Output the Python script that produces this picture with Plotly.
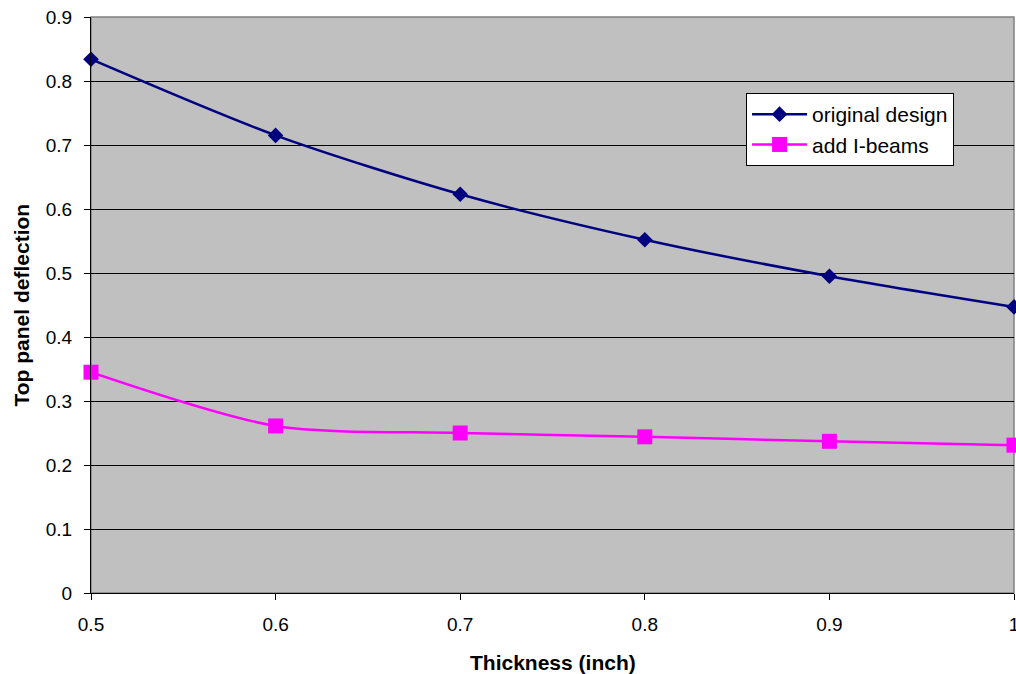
import plotly.graph_objects as go

thickness = [0.5, 0.6, 0.7, 0.8, 0.9, 1.0]
original_design = [0.834, 0.715, 0.623, 0.552, 0.495, 0.447]
add_i_beams = [0.345, 0.261, 0.250, 0.244, 0.237, 0.231]

x_ticks = [0.5, 0.6, 0.7, 0.8, 0.9, 1.0]
x_tick_labels = ["0.5", "0.6", "0.7", "0.8", "0.9", "1"]
y_ticks = [0, 0.1, 0.2, 0.3, 0.4, 0.5, 0.6, 0.7, 0.8, 0.9]
y_tick_labels = ["0", "0.1", "0.2", "0.3", "0.4", "0.5", "0.6", "0.7", "0.8", "0.9"]

FONT = "Liberation Sans, Arial, sans-serif"

fig = go.Figure()
fig.add_trace(go.Scatter(
    x=thickness, y=original_design, name="original design",
    mode="lines+markers", line=dict(color="#000080", width=2.5, shape="spline", smoothing=0.8),
    marker=dict(symbol="diamond", size=12, color="#000080"),
    legendgroup="a", cliponaxis=False,
))
fig.add_trace(go.Scatter(
    x=thickness, y=add_i_beams, name="add I-beams",
    mode="lines+markers", line=dict(color="#FF00FF", width=2.5, shape="spline", smoothing=0.8),
    marker=dict(symbol="square", size=15, color="#FF00FF"),
    legendgroup="b", cliponaxis=False,
))

fig.add_shape(type="rect", xref="paper", yref="paper", x0=0, x1=1, y0=0, y1=1,
              line=dict(color="#808080", width=1.5), layer="below")

fig.add_annotation(text="<b>Thickness (inch)</b>", xref="paper", yref="paper",
                   x=0.5, y=-0.1198, xanchor="center", yanchor="middle",
                   showarrow=False, font=dict(family=FONT, size=21, color="black"))
fig.add_annotation(text="<b>Top panel deflection</b>", xref="paper", yref="paper",
                   x=-0.0753, y=0.5, xanchor="center", yanchor="middle", textangle=-90,
                   showarrow=False, font=dict(family=FONT, size=21, color="black"))

fig.update_layout(
    width=1016, height=674,
    margin=dict(l=91, r=2, t=17, b=81, autoexpand=False),
    paper_bgcolor="white", plot_bgcolor="#C0C0C0",
    font=dict(family=FONT, size=19, color="black"),
    showlegend=True,
    legend=dict(
        x=0.7097, y=0.8047, xanchor="left", yanchor="middle",
        bgcolor="white", bordercolor="black", borderwidth=1,
        font=dict(family=FONT, size=21, color="black"),
        itemwidth=55, tracegroupgap=0, traceorder="grouped",
    ),
    xaxis=dict(
        range=[0.5, 1.0], tickvals=x_ticks, ticktext=x_tick_labels,
        showgrid=False, zeroline=False, automargin=False,
        showline=True, linecolor="black", linewidth=1,
        ticks="outside", ticklen=6, tickcolor="black",
        ticklabelstandoff=8, ticklabeloverflow="allow",
        tickfont=dict(family=FONT, size=19),
    ),
    yaxis=dict(
        range=[0, 0.9], tickvals=y_ticks, ticktext=y_tick_labels,
        showgrid=True, gridcolor="black", gridwidth=1, zeroline=False, automargin=False,
        showline=True, linecolor="black", linewidth=1,
        ticks="outside", ticklen=6, tickcolor="black",
        ticklabelstandoff=8, ticklabeloverflow="allow",
        tickfont=dict(family=FONT, size=19),
    ),
)

fig.write_html("out.html")
